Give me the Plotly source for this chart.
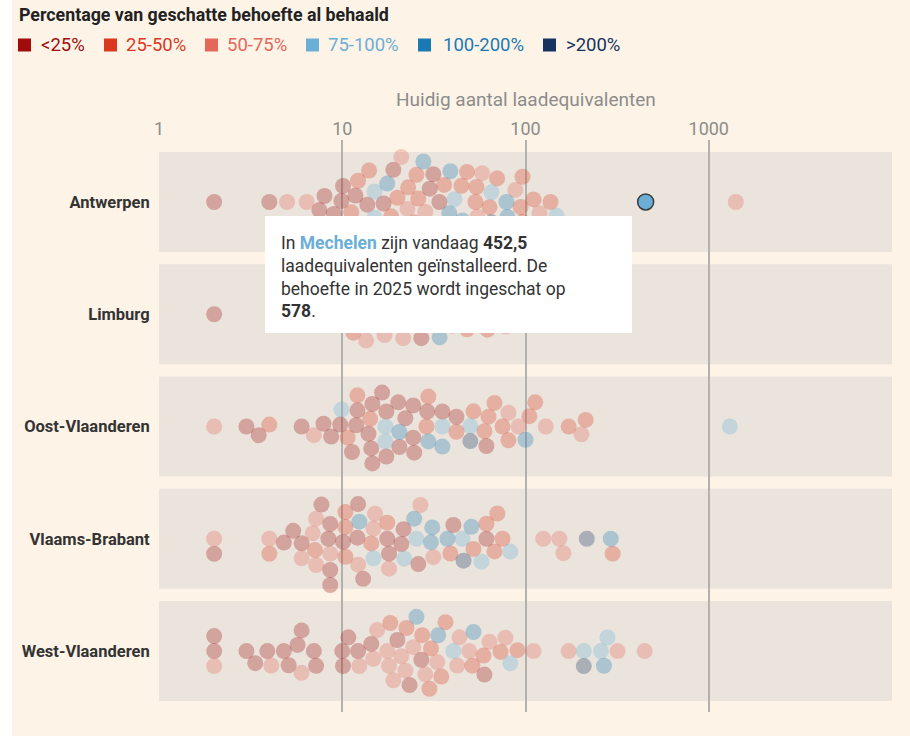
import math
import plotly.graph_objects as go

# ---------------- data ----------------
provinces = ["Antwerpen", "Limburg", "Oost-Vlaanderen", "Vlaams-Brabant", "West-Vlaanderen"]

category_labels = ["<25%", "25-50%", "50-75%", "75-100%", "100-200%", ">200%"]
category_colors = ["#a00c0c", "#d9391f", "#e5675a", "#6baed6", "#1a79b5", "#16335f"]

# current number of charging equivalents per municipality and its category index
antwerpen_values = [2.0, 4.0, 5.0, 6.4, 7.5, 8.0, 9.0, 10.1, 9.9, 11.2, 12.4, 12.2, 13.7, 15.0, 15.0,
                    16.3, 16.8, 17.6, 18.5, 20.0, 20.7, 20.0, 22.7, 22.9, 25.4, 25.4, 24.7, 27.7, 28.4,
                    31.0, 31.4, 33.9, 35.2, 38.4, 39.9, 38.9, 45.3, 44.7, 45.9, 53.3, 54.0, 54.7, 63.6,
                    65.2, 65.2, 79.7, 79.7, 78.7, 96.3, 96.3, 94.0, 110.6, 119.3, 137.0, 147.6, 1404.0,
                    11.8, 14.0, 19.0, 21.0, 26.0, 30.0, 36.0, 41.0, 48.0, 58.0, 70.0, 88.0]
antwerpen_categories = [0, 0, 2, 2, 0, 0, 0, 0, 0, 1, 3, 1, 0, 3, 3,
                        0, 0, 4, 1, 1, 0, 4, 2, 1, 1, 1, 1, 4, 2,
                        3, 0, 0, 4, 4, 1, 4, 4, 1, 3, 1, 1, 2, 1,
                        3, 5, 4, 2, 4, 1, 1, 1, 1, 2, 1, 3, 2,
                        0, 1, 0, 2, 1, 0, 1, 3, 1, 2, 1, 2]

limburg_values = [2.0, 12.1, 14.8, 18.0, 19.7, 22.9, 28.4, 55.4, 86.0,
                  4.2, 5.5, 6.8, 8.0, 9.0, 10.0, 11.0, 11.5, 13.0, 13.5, 15.5, 16.5, 17.0, 19.0,
                  20.5, 21.5, 24.0, 25.5, 27.0, 30.0, 32.0, 34.0, 36.5, 40.0, 44.0, 48.0, 52.0,
                  62.0, 70.0, 78.0, 100.0, 125.0, 160.0]
limburg_categories = [0, 1, 1, 0, 3, 4, 4, 3, 3,
                      0, 2, 0, 1, 0, 2, 0, 1, 0, 2, 0, 1, 2, 1,
                      0, 2, 1, 3, 0, 1, 2, 4, 1, 0, 2, 1, 2,
                      1, 0, 2, 1, 2, 1]

oost_vlaanderen_values = [2.0, 3.0, 3.5, 4.0, 6.0, 7.0, 7.9, 8.7, 9.75, 9.9, 10.7, 11.3, 11.9, 12.1,
                          12.1, 13.9, 14.2, 14.4, 14.6, 14.6, 16.5, 17.2, 17.4, 17.4, 17.2, 20.5,
                          20.5, 20.2, 22.1, 24.4, 24.4, 24.7, 28.8, 29.5, 29.1, 29.5, 35.2, 35.2,
                          35.2, 42.0, 42.0, 50.0, 52.0, 50.0, 59.7, 61.2, 62.8, 67.7, 74.9, 80.7,
                          80.7, 91.6, 100.0, 105.0, 113.0, 129.0, 172.0, 202.0, 213.0, 1303.0]
oost_vlaanderen_categories = [2, 0, 0, 1, 0, 2, 0, 0, 0, 3, 1, 0, 0, 0,
                              1, 0, 1, 0, 0, 0, 0, 3, 0, 0, 3, 4,
                              0, 0, 0, 0, 0, 0, 1, 4, 0, 1, 3, 0,
                              4, 1, 0, 3, 1, 5, 1, 0, 1, 1, 1, 1,
                              2, 2, 4, 1, 1, 2, 1, 2, 1, 3]

vlaams_brabant_values = [2.0, 2.0, 4.0, 4.0, 4.8, 5.4, 6.0, 6.0, 6.9, 7.1, 7.2, 7.2, 7.7, 8.4, 8.6,
                         8.6, 8.6, 8.6, 10.1, 10.4, 10.4, 10.4, 12.1, 12.2, 12.2, 12.4, 13.0, 14.4,
                         14.8, 14.8, 15.1, 17.6, 17.6, 18.0, 18.0, 21.0, 21.6, 21.8, 24.7, 25.4,
                         26.0, 26.7, 30.5, 31.0, 31.4, 37.5, 38.9, 40.4, 45.3, 45.9, 50.7, 52.0,
                         57.5, 61.2, 61.2, 67.7, 70.2, 74.9, 82.6, 125.0, 161.0, 153.0, 216.0,
                         292.0, 299.0]
vlaams_brabant_categories = [2, 0, 2, 1, 0, 0, 0, 2, 2, 1, 2, 2, 0, 0, 2,
                             0, 0, 0, 0, 1, 1, 1, 0, 2, 0, 4, 0, 1,
                             2, 3, 2, 0, 1, 0, 2, 0, 0, 3, 4, 3,
                             0, 2, 4, 4, 2, 4, 1, 0, 3, 5, 4, 1,
                             3, 0, 1, 1, 1, 1, 3, 2, 2, 2, 5,
                             4, 1]

west_vlaanderen_values = [2.0, 2.0, 2.0, 3.0, 3.35, 3.9, 4.1, 4.8, 5.1, 5.7, 6.0, 6.0, 7.0, 7.2, 10.0,
                          10.1, 10.8, 12.2, 12.4, 14.4, 14.8, 15.5, 17.6, 18.0, 18.3, 19.0, 20.0,
                          21.0, 22.4, 22.1, 23.3, 24.4, 25.4, 27.3, 27.0, 28.4, 29.9, 30.5, 33.0,
                          33.4, 34.7, 36.6, 40.4, 42.4, 43.6, 49.3, 51.3, 52.0, 59.0, 59.7, 63.6,
                          73.1, 77.7, 82.6, 90.4, 110.6, 172.0, 208.0, 208.0, 258.0, 280.0, 268.0,
                          318.0, 447.0]
west_vlaanderen_categories = [0, 2, 0, 0, 0, 0, 2, 0, 0, 0, 0, 2, 0, 0, 0,
                              0, 0, 0, 2, 0, 2, 2, 2, 2, 1, 2, 0,
                              2, 1, 2, 0, 2, 4, 1, 0, 2, 1, 1, 2,
                              4, 1, 1, 3, 2, 2, 2, 1, 4, 1, 0, 2,
                              1, 2, 3, 1, 2, 2, 3, 5, 3, 3, 4,
                              2, 2]

highlight_name = "Mechelen"
highlight_province = "Antwerpen"
highlight_value = 452.5
highlight_need_2025 = 578
highlight_category = 3

x_tick_values = [1, 10, 100, 1000]
x_tick_labels = ["1", "10", "100", "1000"]

title_text = "Percentage van geschatte behoefte al behaald"
x_axis_title = "Huidig aantal laadequivalenten"

province_data = {
    "Antwerpen": (antwerpen_values, antwerpen_categories),
    "Limburg": (limburg_values, limburg_categories),
    "Oost-Vlaanderen": (oost_vlaanderen_values, oost_vlaanderen_categories),
    "Vlaams-Brabant": (vlaams_brabant_values, vlaams_brabant_categories),
    "West-Vlaanderen": (west_vlaanderen_values, west_vlaanderen_categories),
}

# ---------------- layout constants ----------------
W, H = 910, 736
ML, MR, MT, MB = 159, 18, 140, 24
PW = W - ML - MR
PH = H - MT - MB
X_RANGE = [0, 4]
Y_RANGE = [4.543, -0.552]
PX_PER_DEC = PW / (X_RANGE[1] - X_RANGE[0])
PX_PER_UNIT = PH / (Y_RANGE[0] - Y_RANGE[1])
DOT = 16
COLLIDE = 15.0
FONT = "Roboto, 'Open Sans', sans-serif"
BG = "#fdf4e7"
BAND = "#eae4dc"


def px_x(px):
    return (px - ML) / PW


def px_y(py):
    return (H - MB - py) / PH


def dodge(values, diameter):
    """Symmetric beeswarm: returns vertical pixel offsets for each value."""
    xs = [math.log10(v) * PX_PER_DEC for v in values]
    order = sorted(range(len(xs)), key=lambda i: xs[i])
    placed = []
    offsets = [0.0] * len(xs)
    for i in order:
        x = xs[i]
        cands = [0.0]
        for (px, py) in placed:
            dx = abs(x - px)
            if dx < diameter:
                h = math.sqrt(diameter ** 2 - dx ** 2)
                cands += [py + h, py - h]
        cands.sort(key=abs)
        chosen = cands[-1]
        for y in cands:
            if all((x - px) ** 2 + (y - py) ** 2 >= diameter ** 2 - 1e-6 for (px, py) in placed):
                chosen = y
                break
        placed.append((x, chosen))
        offsets[i] = chosen
    return offsets


# ---------------- build points ----------------
cat_x = {c: [] for c in range(len(category_labels))}
cat_y = {c: [] for c in range(len(category_labels))}
highlight_y = None

for pi, prov in enumerate(provinces):
    vals, cats = province_data[prov]
    vals = list(vals)
    cats = list(cats)
    is_hl = [False] * len(vals)
    if prov == highlight_province:
        vals.append(highlight_value)
        cats.append(highlight_category)
        is_hl.append(True)
    offs = dodge(vals, COLLIDE)
    for v, c, o, h in zip(vals, cats, offs, is_hl):
        yv = pi + o / PX_PER_UNIT
        if h:
            highlight_y = yv
        else:
            cat_x[c].append(v)
            cat_y[c].append(yv)

fig = go.Figure()
for c, label in enumerate(category_labels):
    fig.add_trace(go.Scatter(
        x=cat_x[c], y=cat_y[c], mode="markers", name=label, showlegend=False,
        marker=dict(size=DOT, color=category_colors[c], opacity=0.3, line=dict(width=0)),
        hovertemplate="%{x}<extra>" + label + "</extra>",
    ))

fig.add_trace(go.Scatter(
    x=[highlight_value], y=[highlight_y], mode="markers", name=highlight_name, showlegend=False,
    marker=dict(size=DOT, color=category_colors[highlight_category], opacity=1,
                line=dict(width=1.5, color="#3b3b3b")),
    hovertemplate=highlight_name + ": %{x}<extra></extra>",
))

shapes = []
band_half = 50 / PX_PER_UNIT
for pi in range(len(provinces)):
    shapes.append(dict(type="rect", xref="paper", yref="y", x0=0, x1=1,
                       y0=pi - band_half, y1=pi + band_half,
                       fillcolor=BAND, line=dict(width=0), layer="below"))

# white strip on the left edge of the page
shapes.append(dict(type="rect", xref="paper", yref="paper", x0=px_x(0), x1=px_x(12),
                   y0=px_y(H), y1=px_y(0), fillcolor="white", line=dict(width=0), layer="above"))

# tooltip box
shapes.append(dict(type="rect", xref="paper", yref="paper", x0=px_x(265), x1=px_x(632),
                   y0=px_y(333), y1=px_y(216), fillcolor="white", line=dict(width=0), layer="above"))

annotations = []
annotations.append(dict(xref="paper", yref="paper", x=px_x(17), y=px_y(14), xanchor="left",
                        yanchor="middle", showarrow=False, text="<b>" + title_text + "</b>",
                        font=dict(family=FONT, size=17.8, color="#222222")))

legend_square_x = [18, 104, 205, 306, 418, 543]
legend_text_x = [39, 124, 225, 326, 441, 564]
for c, label in enumerate(category_labels):
    shapes.append(dict(type="rect", xref="paper", yref="paper",
                       x0=px_x(legend_square_x[c]), x1=px_x(legend_square_x[c] + 13),
                       y0=px_y(51.5), y1=px_y(38.5), fillcolor=category_colors[c],
                       line=dict(width=0), layer="above"))
    annotations.append(dict(xref="paper", yref="paper", x=px_x(legend_text_x[c]), y=px_y(45),
                            xanchor="left", yanchor="middle", showarrow=False, text=label,
                            font=dict(family=FONT, size=18.5, color=category_colors[c])))

annotations.append(dict(xref="paper", yref="paper", x=0.5, y=px_y(100), xanchor="center",
                        yanchor="middle", showarrow=False, text=x_axis_title,
                        font=dict(family=FONT, size=19, color="#8c8c8c")))

value_str = f"{highlight_value:.1f}".replace(".", ",")
need_str = f"{highlight_need_2025}"
tooltip_text = (f"In <span style='color:{category_colors[highlight_category]}'><b>{highlight_name}</b></span>"
                f" zijn vandaag <b>{value_str}</b><br>laadequivalenten geïnstalleerd. De<br>"
                f"behoefte in 2025 wordt ingeschat op<br><b>{need_str}</b>.")
annotations.append(dict(xref="paper", yref="paper", x=px_x(279), y=px_y(276.5), xanchor="left",
                        yanchor="middle", align="left", showarrow=False, text=tooltip_text,
                        font=dict(family=FONT, size=17.5, color="#333333")))

fig.update_layout(
    width=W, height=H,
    margin=dict(l=ML, r=MR, t=MT, b=MB, pad=0),
    paper_bgcolor=BG, plot_bgcolor=BG,
    shapes=shapes, annotations=annotations,
    xaxis=dict(type="log", range=X_RANGE, side="top", tickvals=x_tick_values, ticktext=x_tick_labels,
               tickfont=dict(family=FONT, size=18, color="#8c8c8c"), showgrid=True,
               gridcolor="#b3b1ae", gridwidth=1.5, zeroline=False, showline=False, ticks="",
               fixedrange=True),
    yaxis=dict(range=Y_RANGE, tickvals=list(range(len(provinces))), ticktext=provinces,
               tickfont=dict(family=FONT, size=16.5, color="#333333", weight="bold"),
               showgrid=False, zeroline=False, showline=False, ticks="outside", ticklen=5,
               tickcolor="rgba(0,0,0,0)", fixedrange=True),
    font=dict(family=FONT),
    hovermode="closest",
)

fig.write_html("out.html", config={"displayModeBar": False},
               post_script="document.body.style.margin='0px';document.body.style.padding='0px';")
